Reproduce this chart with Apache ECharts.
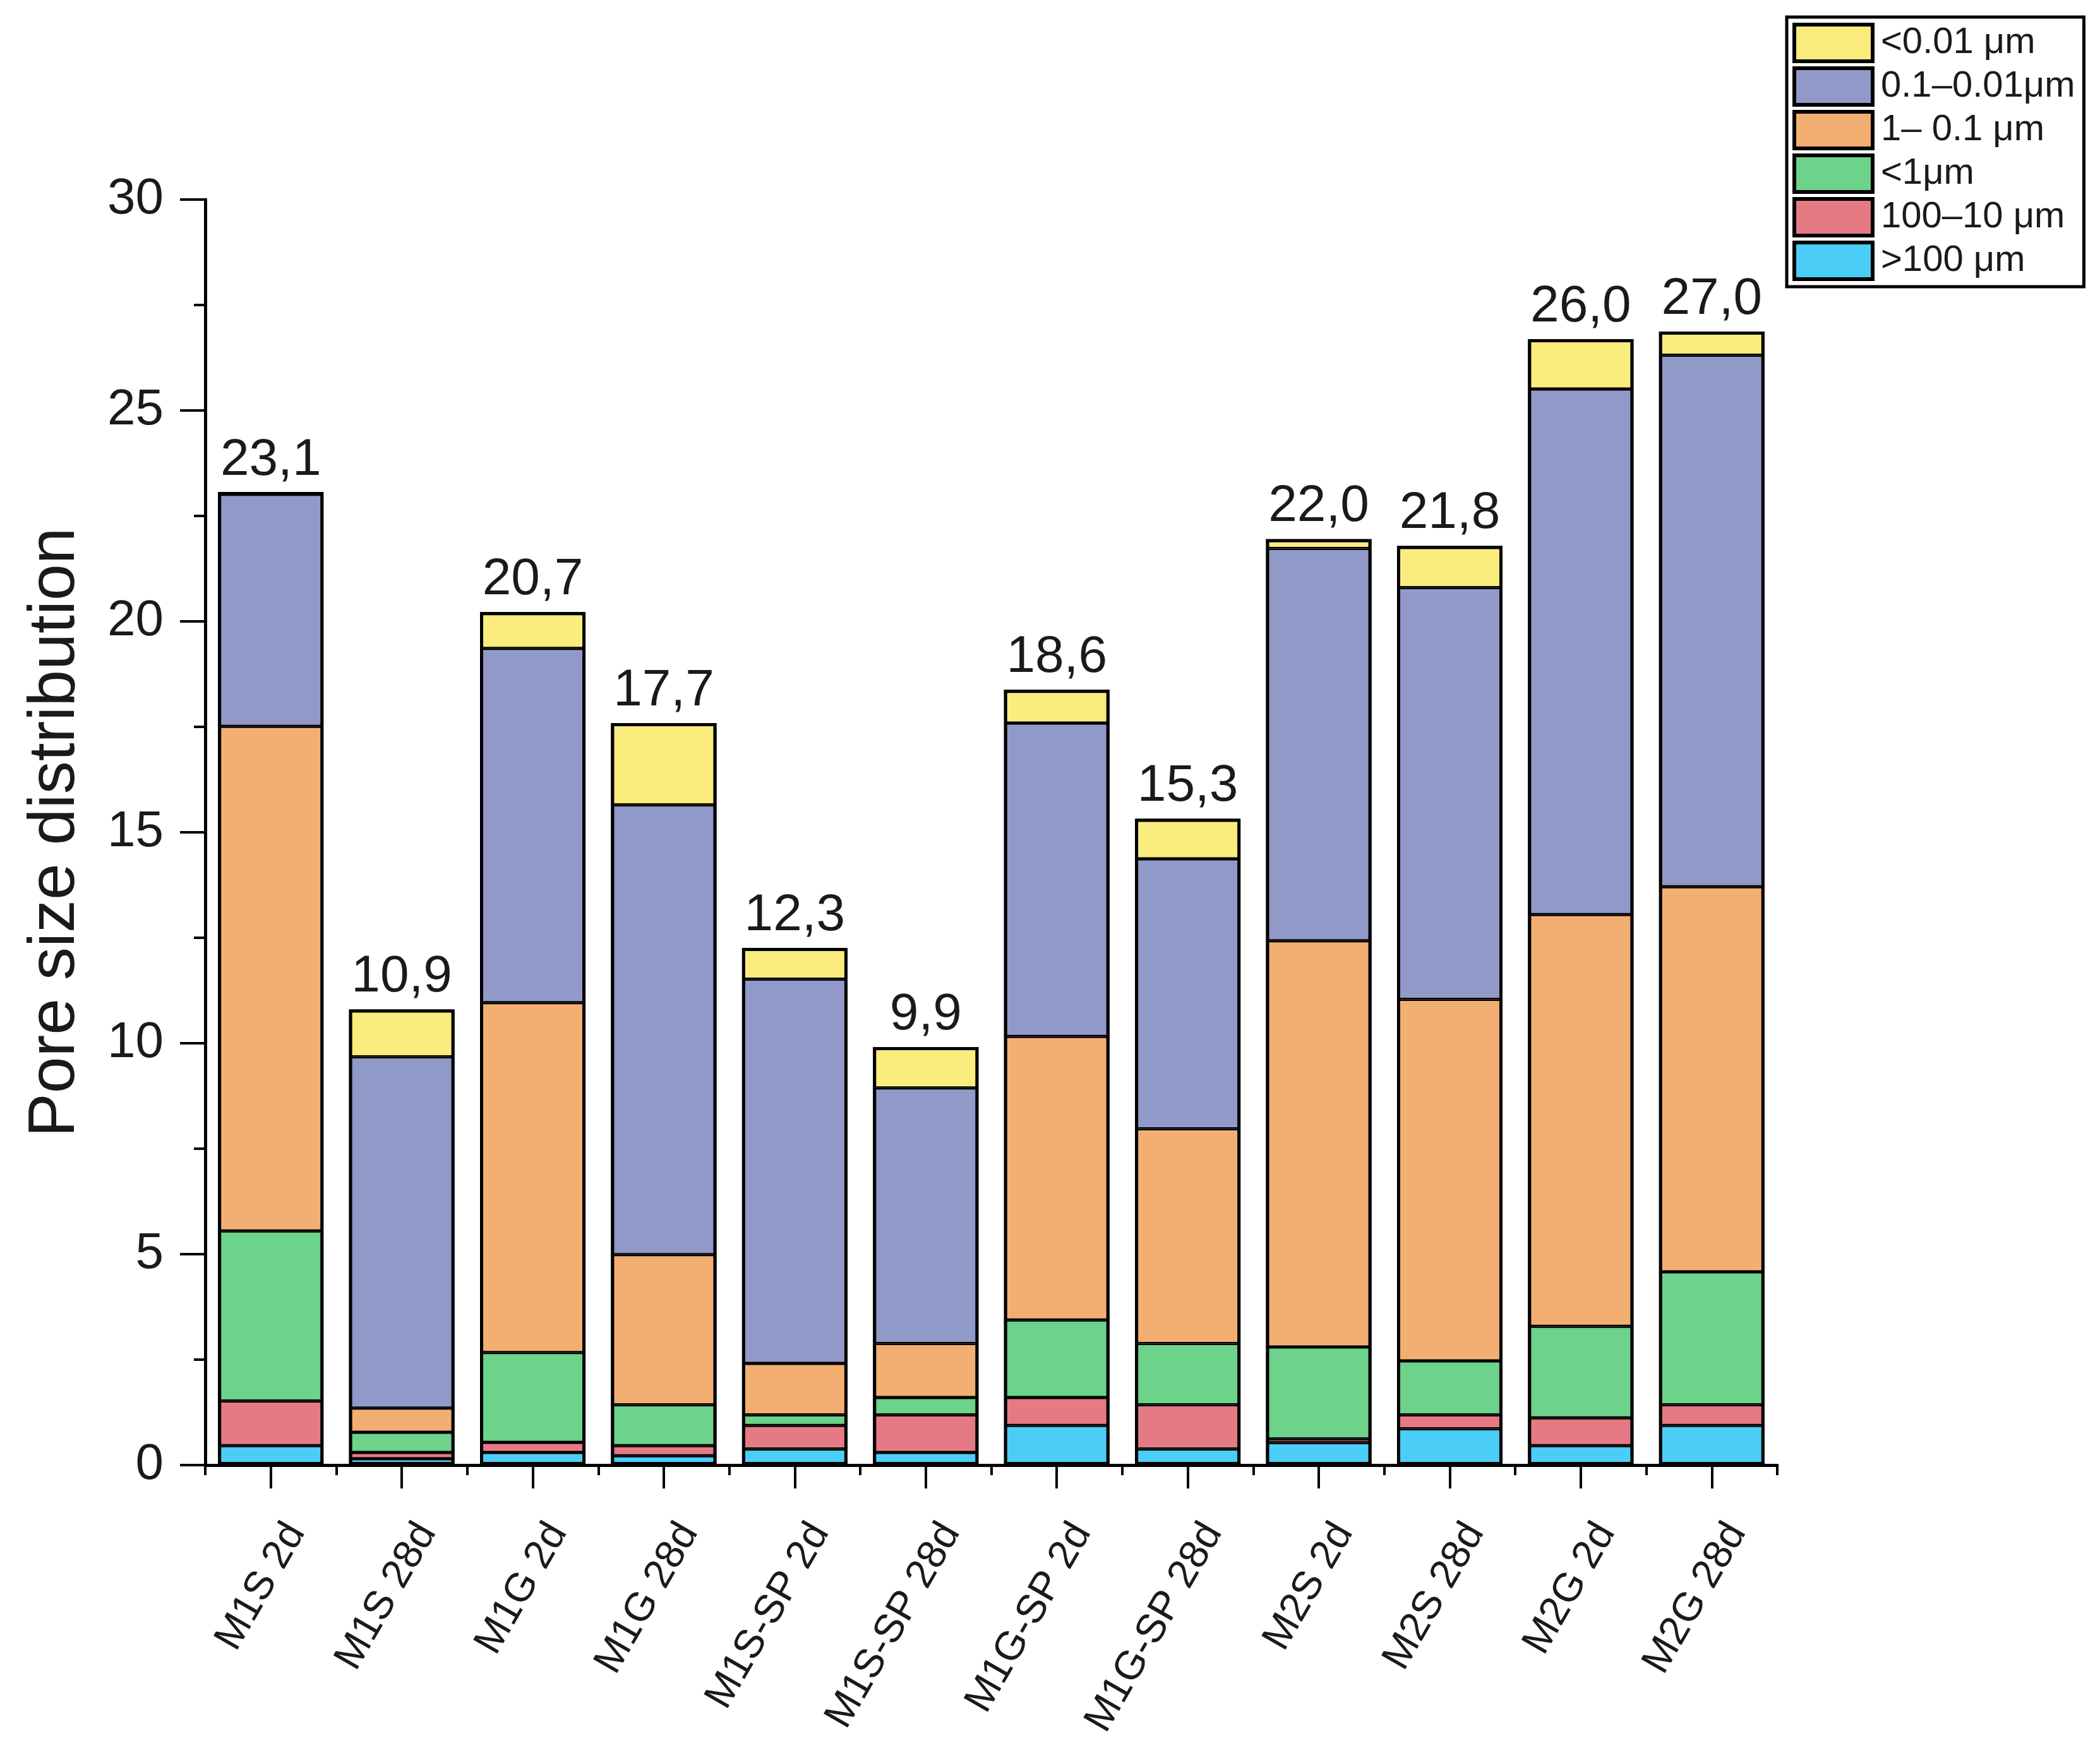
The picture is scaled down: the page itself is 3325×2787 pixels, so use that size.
<!DOCTYPE html>
<html>
<head>
<meta charset="utf-8">
<script src="https://cdn.jsdelivr.net/npm/echarts@6/dist/echarts.min.js"></script>
<style>
  html, body { margin: 0; padding: 0; background: #fff; }
  #chart-container { width: 3325px; height: 2787px; }
</style>
</head>
<body>
<div id="chart-container"></div>
<script>
// 类别
var categories = ['M1S 2d', 'M1S 28d', 'M1G 2d', 'M1G 28d', 'M1S-SP 2d', 'M1S-SP 28d',
  'M1G-SP 2d', 'M1G-SP 28d', 'M2S 2d', 'M2S 28d', 'M2G 2d', 'M2G 28d'];

// 各孔径段（从下到上堆叠）
var over100 = [0.46, 0.15, 0.30, 0.22, 0.38, 0.30, 0.94, 0.38, 0.53, 0.86, 0.46, 0.94];
var from100to10 = [1.06, 0.15, 0.24, 0.24, 0.56, 0.89, 0.66, 1.05, 0.09, 0.33, 0.66, 0.49];
var under1 = [4.03, 0.48, 2.13, 0.97, 0.25, 0.41, 1.84, 1.45, 2.18, 1.28, 2.17, 3.15];
var from1to01 = [11.96, 0.57, 8.29, 3.56, 1.22, 1.28, 6.72, 5.09, 9.63, 8.57, 9.76, 9.13];
var from01to001 = [5.54, 8.33, 8.40, 10.66, 9.11, 6.06, 7.43, 6.40, 9.30, 9.76, 12.46, 12.60];
var under001 = [0, 1.12, 0.86, 1.94, 0.74, 0.97, 0.79, 0.95, 0.22, 0.99, 1.18, 0.56];

// 柱顶标注
var totalLabels = ['23,1', '10,9', '20,7', '17,7', '12,3', '9,9', '18,6', '15,3', '22,0', '21,8', '26,0', '27,0'];

// 图例名称（从下到上）
var seriesNames = ['>100 μm', '100–10 μm', '<1μm', '1– 0.1 μm', '0.1–0.01μm', '<0.01 μm'];
var seriesColors = ['#4ACEF8', '#E57A84', '#6DD28A', '#F3AF71', '#9199C9', '#FAED7D'];
var seriesData = [over100, from100to10, under1, from1to01, from01to001, under001];

// 每根柱子的总高（用于外框和标注）
var totals = categories.map(function (c, j) {
  return seriesData.reduce(function (s, d) { return s + d[j]; }, 0);
});

var container = document.getElementById('chart-container');
var myChart = echarts.init(container, null, { renderer: 'canvas' });

var FONT = 'Liberation Sans';
var BAR_W = 167;

var series = seriesData.map(function (d, i) {
  return {
    name: seriesNames[i],
    type: 'bar',
    stack: 'total',
    barWidth: BAR_W,
    barGap: '-100%',
    data: d,
    itemStyle: {
      color: seriesColors[i],
      borderColor: '#000',
      borderWidth: 2.5
    }
  };
});

// 外框 + 顶部数值
series.push({
  name: 'outline',
  type: 'bar',
  barWidth: BAR_W,
  barGap: '-100%',
  z: 5,
  data: totals,
  silent: true,
  itemStyle: { color: 'rgba(0,0,0,0)', borderColor: '#000', borderWidth: 5 },
  label: {
    show: true,
    position: 'top',
    distance: 10,
    fontFamily: FONT,
    fontSize: 82,
    color: '#1a1a1a',
    formatter: function (p) { return totalLabels[p.dataIndex]; }
  }
});

myChart.setOption({
  animation: false,
  backgroundColor: '#fff',
  grid: { left: 325, right: 511, top: 316, bottom: 467, containLabel: false },
  legend: {
    orient: 'vertical',
    left: 2829,
    top: 27,
    padding: [9, 14, 9, 9],
    backgroundColor: '#fff',
    borderColor: '#000',
    borderWidth: 5,
    borderRadius: 0,
    itemWidth: 124,
    itemHeight: 58,
    itemGap: 5,
    icon: 'rect',
    data: seriesNames.slice().reverse(),
    itemStyle: { borderColor: '#000', borderWidth: 6 },
    textStyle: {
      fontFamily: FONT, fontSize: 58, lineHeight: 58, color: '#1a1a1a',
      width: 300, padding: [0, 0, 0, 8]
    }
  },
  xAxis: [
    {
      type: 'category',
      data: categories,
      axisLine: { show: true, lineStyle: { color: '#000', width: 5 } },
      axisTick: { show: true, alignWithLabel: true, length: 37, lineStyle: { color: '#000', width: 4 } },
      axisLabel: {
        interval: 0,
        rotate: 60,
        margin: 74,
        align: 'right',
        verticalAlign: 'top',
        lineHeight: 92,
        fontFamily: FONT,
        fontSize: 64,
        color: '#1a1a1a'
      }
    },
    {
      type: 'category',
      data: categories,
      position: 'bottom',
      axisLine: { show: false },
      axisTick: { show: true, alignWithLabel: false, length: 16, lineStyle: { color: '#000', width: 4 } },
      axisLabel: { show: false },
      splitLine: { show: false }
    }
  ],
  yAxis: {
    type: 'value',
    min: 0,
    max: 30,
    interval: 5,
    name: 'Pore size distribution',
    nameLocation: 'middle',
    nameGap: 185,
    nameRotate: 90,
    nameTextStyle: { fontFamily: FONT, fontSize: 104, color: '#1a1a1a' },
    axisLine: { show: true, lineStyle: { color: '#000', width: 5 } },
    axisTick: { show: true, inside: false, length: 40, lineStyle: { color: '#000', width: 4 } },
    minorTick: { show: true, splitNumber: 2, length: 18, lineStyle: { color: '#000', width: 4 } },
    splitLine: { show: false },
    axisLabel: { margin: 66, fontFamily: FONT, fontSize: 80, color: '#1a1a1a' }
  },
  series: series
});
</script>
</body>
</html>
